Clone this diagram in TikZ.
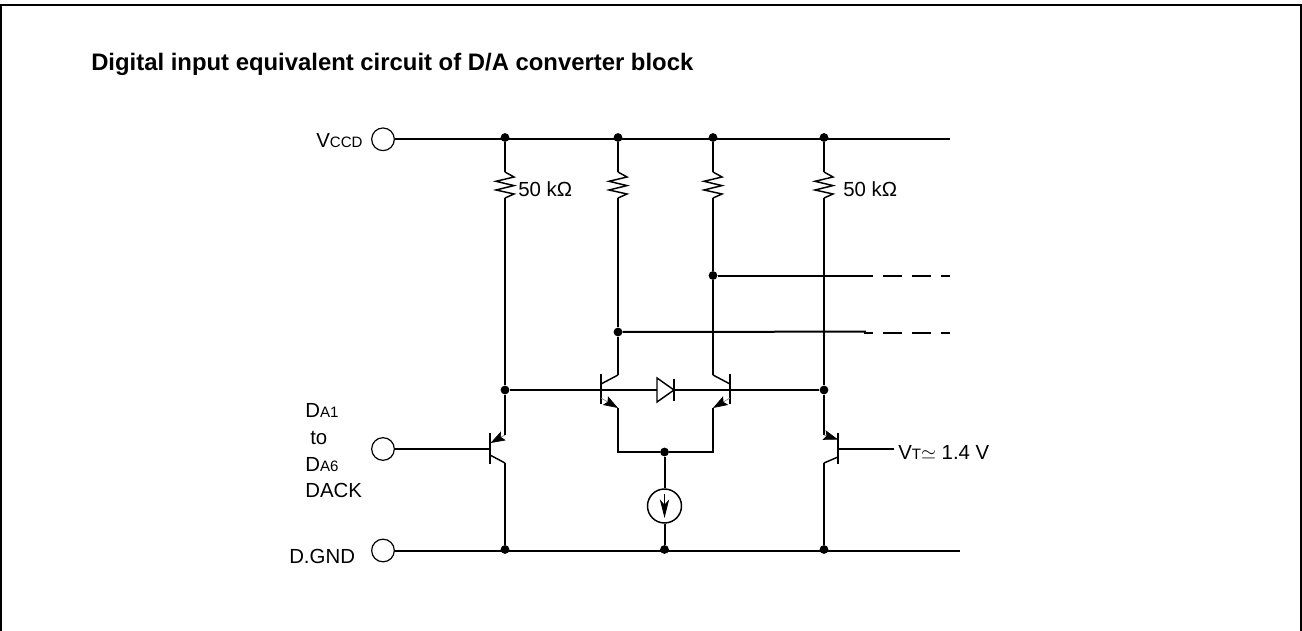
\documentclass[tikz,border=0pt]{standalone}
\usepackage{fontspec}
\setmainfont{Liberation Sans}
\usetikzlibrary{arrows.meta}
\newcommand{\lbl}{\fontsize{15.3pt}{18pt}\selectfont}
\newcommand{\sml}{\fontsize{11.3pt}{13pt}\selectfont}
\tikzset{
  x=0.75pt,y=-0.75pt,
  wire/.style={line width=1.5pt,black},
  thin wire/.style={line width=1.1pt,black},
  frameline/.style={line width=1.6pt,black},
  dot/.style={circle,fill=black,inner sep=0pt,minimum size=6.6pt},
  pin/.style={circle,draw,line width=0.9pt,fill=white,inner sep=0pt,minimum size=17pt},
  txt/.style={inner sep=0pt,font=\lbl,black},
  bar/.style={line width=1.5pt,black},
  emit/.style={line width=0.5pt,gray,-{Stealth[length=11pt,width=7.5pt,inset=2pt,black]}},
  lead/.style={line width=1.1pt},
  long dash/.style={line width=1.5pt,dash pattern=on 14.25pt off 7.5pt},
}
\begin{document}
\begin{tikzpicture}
\useasboundingbox (0,0) rectangle (1302,631);
% frame
\coordinate (fbl) at (1,631); \coordinate (ftl) at (1,5); \coordinate (ftr) at (1300.8,5); \coordinate (fbr) at (1300.8,631);
\draw[frameline,line join=miter] (fbl) -- (ftl) -- (ftr) -- (fbr);
% title
\node[txt,anchor=base west,font=\fontsize{17.9pt}{20pt}\selectfont\bfseries] (title) at (91,70.5) {Digital input equivalent circuit of D/A converter block};
% pins
\node[pin] (pv) at (383,139.3) {};
\node[pin] (pi) at (383,449) {};
\node[pin] (pg) at (383,550.5) {};
% pin labels
\node[txt,anchor=base west] (lv) at (316,148) {V{\sml CCD}};
\node[txt,anchor=base west] (la1) at (305,417) {D{\sml A1}};
\node[txt,anchor=base west] (lto) at (310,444) {to};
\node[txt,anchor=base west] (la6) at (305,471) {D{\sml A6}};
\node[txt,anchor=base west] (lack) at (305,497) {DACK};
\node[txt,anchor=base west] (lg) at (289,563) {D.GND};
\node[txt,anchor=base west] (r1l) at (518,196) {50 kΩ};
\node[txt,anchor=base west] (r4l) at (843,196) {50 kΩ};
\node[txt,anchor=base west] (vtl) at (898,459) {V{\sml T}$\simeq$ 1.4 V};
% rails
\coordinate (ve) at (950,139.3);
\coordinate (ge) at (960,550.5);
\node[dot] (v1) at (505,137.5) {};
\node[dot] (v2) at (618,137.5) {};
\node[dot] (v3) at (713,137.5) {};
\node[dot] (v4) at (824,137.5) {};
\node[dot] (g1) at (505,549.5) {};
\node[dot] (g2) at (664.5,549.5) {};
\node[dot] (g3) at (824,549.5) {};
\draw[wire] (pv) -- (ve);
\draw[wire] (pg) -- (ge);
% resistors
\foreach \n/\x in {1/505,2/618,3/713,4/824}{
  \coordinate (ra\n) at (\x,172);
  \coordinate (rb\n) at (\x,198);
  \draw[wire] (v\n) -- (ra\n);
  \draw[thin wire,line join=miter] (ra\n) -- (\x+9,177) -- (\x-9,181.3) -- (\x+9,185.6) -- (\x-9,190) -- (\x+9,194) -- (rb\n);
}
% junctions
\node[dot] (b1) at (505,390) {};
\node[dot] (b2) at (824,390) {};
\node[dot] (c2) at (618,332) {};
\node[dot] (c3) at (713,275.5) {};
\node[dot] (tail) at (664.5,452) {};
% vertical wires
\coordinate (q1e) at (505,435);
\coordinate (q1c) at (505,463);
\coordinate (q4e) at (824,435);
\coordinate (q4c) at (824,463);
\coordinate (q2c) at (618,375);
\coordinate (q2e) at (618,408);
\coordinate (q3c) at (713,375);
\coordinate (q3e) at (713,408);
\draw[wire] (rb1) -- (b1) -- (q1e);
\draw[wire] (q1c) -- (g1);
\draw[wire] (rb4) -- (b2) -- (q4e);
\draw[wire] (q4c) -- (g3);
\draw[wire] (rb2) -- (c2) -- (q2c);
\draw[wire] (rb3) -- (c3) -- (q3c);
\draw[wire,line join=miter] (q2e) |- (tail);
\draw[wire,line join=miter] (q3e) |- (tail);
% outputs
\coordinate (o3) at (873,275.5); \coordinate (o3e) at (950,275.5);
\coordinate (o2) at (866,331.6);
\coordinate (o2d) at (864,333); \coordinate (o2e) at (950,333);
\draw[wire] (c3) -- (o3);
\draw[wire] (c2) -- (o2);
\draw[long dash,dash phase=14.25pt] (o3) -- (o3e);
\draw[long dash,dash phase=7.5pt] (o2d) -- (o2e);
% base line and diode
\coordinate (dl) at (657,390); \coordinate (dr) at (674,390);
\coordinate (q2b) at (601,390); \coordinate (q3b) at (730,390);
\draw[wire] (b1) -- (dl);
\draw[wire] (dr) -- (b2);
\draw[thin wire,line join=miter] (657,378) -- (674,390) -- (657,402) -- cycle;
\draw[bar] (674,378.5) -- (674,400.5);
% diff pair transistors
\draw[bar] (601,374) -- (601,404);
\draw[bar] (730,374) -- (730,404);
\draw[lead] (601,384) -- (q2c);
\draw[lead] (730,384) -- (q3c);
\draw[emit] (601,398) -- (q2e);
\draw[emit] (730,398) -- (q3e);
% input transistor
\coordinate (q1b) at (490,449);
\draw[wire] (pi) -- (q1b);
\draw[bar] (490,433) -- (490,464);
\draw[emit] (q1e) -- (490.5,443);
\draw[lead] (490,455) -- (q1c);
% reference transistor
\coordinate (q4b) at (838,449); \coordinate (vt) at (894,449);
\draw[wire] (q4b) -- (vt);
\draw[bar] (838,433) -- (838,464);
\draw[emit] (q4e) -- (838,439.5);
\draw[lead] (838,457) -- (q4c);
% current source
\node[circle,draw,line width=1.1pt,fill=white,inner sep=0pt,minimum size=25.5pt] (cs) at (664.5,506) {};
\draw[wire] (tail) -- (cs);
\draw[wire] (cs) -- (g2);
\coordinate (csa) at (664.5,494); \coordinate (csb) at (664.5,518);
\draw[line width=0.7pt,-{Stealth[length=14pt,width=7pt,inset=4pt]}] (csa) -- (csb);
\end{tikzpicture}
\end{document}
